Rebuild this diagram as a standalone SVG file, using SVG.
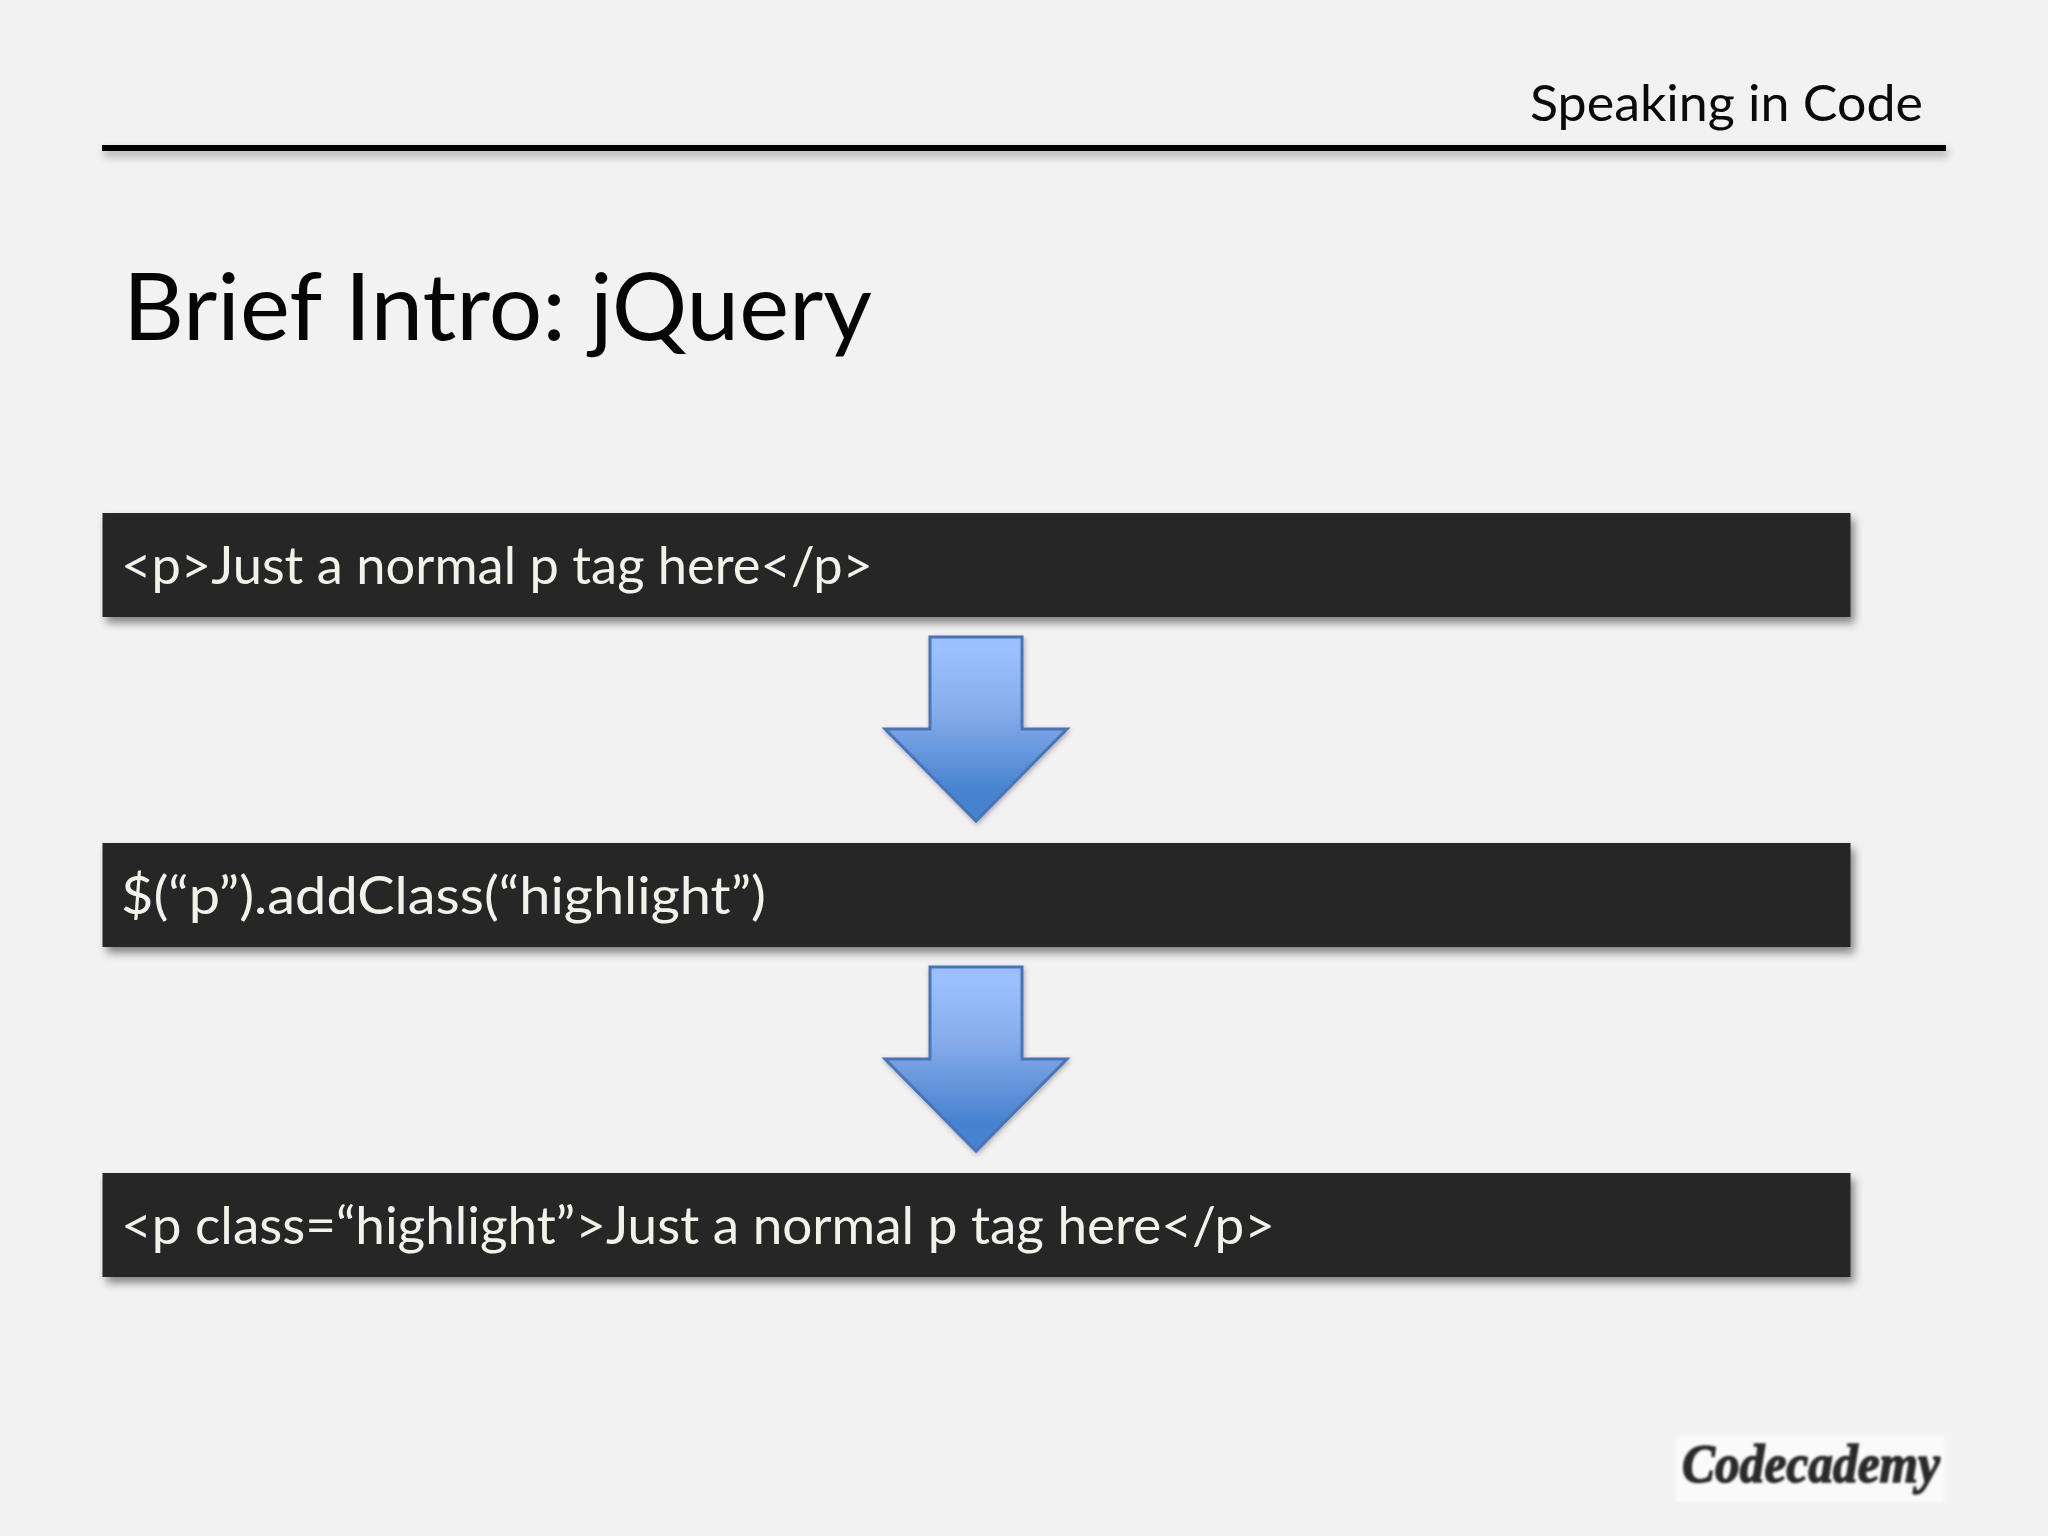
<svg xmlns="http://www.w3.org/2000/svg" width="2048" height="1536" viewBox="0 0 2048 1536">
<style>
text{font-family:Lato,"Noto Sans",sans-serif}
.bar{fill:#262626;filter:url(#sh)}
.code{font-size:53px;fill:#f2f2ec}
.arrow{fill:url(#ag);stroke:#4a74b8;stroke-width:3;filter:url(#sa)}
</style>
<defs>
<linearGradient id="ag" x1="0" y1="0" x2="0" y2="1"><stop offset="0.08" stop-color="#9bbfff"/><stop offset="0.4" stop-color="#86acea"/><stop offset="0.85" stop-color="#4682cf"/></linearGradient>
<filter id="sh" x="-2%" y="-20%" width="104%" height="150%"><feDropShadow dx="4" dy="6" stdDeviation="4" flood-color="#000" flood-opacity="0.45"/></filter>
<filter id="sl" x="-2%" y="-300%" width="104%" height="800%"><feDropShadow dx="2" dy="5" stdDeviation="4" flood-color="#000" flood-opacity="0.35"/></filter>
<filter id="sa" x="-20%" y="-20%" width="140%" height="140%"><feDropShadow dx="1" dy="2" stdDeviation="2.500" flood-color="#000" flood-opacity="0.3"/></filter>
<filter id="bl" x="-5%" y="-20%" width="110%" height="140%"><feGaussianBlur stdDeviation="0.9"/></filter>
<path id="ar" class="arrow" d="M930 637H1022V729H1067L976 821L885 729H930Z"/>
</defs>
<rect id="background" width="2048" height="1536" fill="#f2f2f2"/>
<g id="header">
<text x="1530" y="121" font-size="50" fill="#0a0a0a" textLength="393" lengthAdjust="spacingAndGlyphs">Speaking in Code</text>
<rect x="102" y="145" width="1844" height="6" fill="#000" filter="url(#sl)"/>
</g>
<g id="title"><text x="123" y="340" font-size="93" fill="#050505" textLength="749" lengthAdjust="spacingAndGlyphs">Brief Intro: jQuery</text></g>
<g id="connectors">
<use href="#ar"/>
<use href="#ar" y="330"/>
</g>
<g id="node-p-tag"><rect class="bar" x="102.500" y="513" width="1748" height="104"/><text class="code" x="121" y="584" textLength="752" lengthAdjust="spacingAndGlyphs">&lt;p&gt;Just a normal p tag here&lt;/p&gt;</text></g>
<g id="node-jquery"><rect class="bar" x="102.500" y="843" width="1748" height="104"/><text class="code" x="121" y="914" textLength="645" lengthAdjust="spacingAndGlyphs">$(“p”).addClass(“highlight”)</text></g>
<g id="node-result"><rect class="bar" x="102.500" y="1173" width="1748" height="104"/><text class="code" x="121" y="1244" textLength="1154" lengthAdjust="spacingAndGlyphs">&lt;p class=“highlight”&gt;Just a normal p tag here&lt;/p&gt;</text></g>
<g id="logo">
<rect x="1676" y="1436" width="268" height="66" fill="#fbfafb" filter="url(#bl)"/>
<text x="1682" y="1482" font-size="54" font-weight="700" font-style="italic" fill="#2a2a2a" stroke="#2a2a2a" stroke-width="1.500" filter="url(#bl)" style="font-family:'Liberation Serif',serif" textLength="258" lengthAdjust="spacingAndGlyphs">Codecademy</text>
</g>
</svg>
